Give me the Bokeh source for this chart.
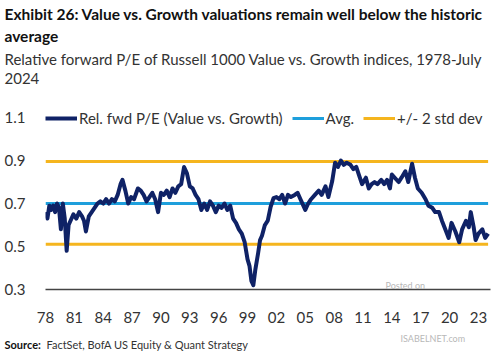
from bokeh.plotting import figure
from bokeh.models import Label, Legend, LegendItem, Range1d, FixedTicker
from bokeh.layouts import column
from bokeh.embed import file_html
from bokeh.resources import INLINE

years = [1978.0, 1978.2, 1978.4, 1978.6, 1978.8, 1979.0, 1979.2, 1979.4, 1979.6, 1979.8,
         1980.0, 1980.2, 1980.4, 1980.6, 1980.9, 1981.2, 1981.5, 1981.8, 1982.0, 1982.2,
         1982.5, 1982.8, 1983.1, 1983.4, 1983.7, 1984.0, 1984.3, 1984.6, 1984.9, 1985.2,
         1985.5, 1985.8, 1986.0, 1986.3, 1986.6, 1986.9, 1987.2, 1987.6, 1987.9, 1988.2,
         1988.5, 1988.8, 1989.1, 1989.4, 1989.7, 1990.0, 1990.3, 1990.6, 1990.9, 1991.2,
         1991.5, 1991.8, 1992.1, 1992.4, 1992.7, 1993.0, 1993.3, 1993.6, 1993.9, 1994.2,
         1994.5, 1994.8, 1995.1, 1995.4, 1995.7, 1996.0, 1996.3, 1996.6, 1996.9, 1997.2,
         1997.5, 1997.8, 1998.1, 1998.4, 1998.7, 1999.0, 1999.2, 1999.4, 1999.6, 1999.8,
         2000.1, 2000.3, 2000.5, 2000.8, 2001.1, 2001.4, 2001.7, 2002.0, 2002.3, 2002.6,
         2002.9, 2003.2, 2003.5, 2003.9, 2004.2, 2004.5, 2004.8, 2005.0, 2005.3, 2005.6,
         2006.0, 2006.4, 2006.7, 2007.1, 2007.4, 2007.8, 2008.1, 2008.4, 2008.7, 2009.0,
         2009.3, 2009.7, 2010.0, 2010.3, 2010.6, 2010.9, 2011.3, 2011.6, 2011.9, 2012.2,
         2012.5, 2012.9, 2013.2, 2013.5, 2013.8, 2014.0, 2014.3, 2014.7, 2015.0, 2015.4,
         2015.7, 2016.1, 2016.4, 2016.7, 2017.1, 2017.5, 2017.8, 2018.2, 2018.5, 2018.9,
         2019.2, 2019.6, 2019.9, 2020.2, 2020.6, 2021.0, 2021.3, 2021.7, 2022.0, 2022.2,
         2022.5, 2022.7, 2023.0, 2023.4, 2023.7, 2024.0]
rel_pe = [0.66, 0.63, 0.69, 0.67, 0.69, 0.66, 0.70, 0.68, 0.58, 0.70,
          0.63, 0.48, 0.60, 0.62, 0.65, 0.63, 0.66, 0.64, 0.62, 0.57,
          0.64, 0.66, 0.68, 0.70, 0.71, 0.70, 0.72, 0.70, 0.72, 0.71,
          0.74, 0.79, 0.81, 0.76, 0.70, 0.73, 0.72, 0.77, 0.76, 0.74,
          0.71, 0.73, 0.75, 0.72, 0.66, 0.75, 0.74, 0.76, 0.73, 0.77,
          0.75, 0.78, 0.79, 0.87, 0.84, 0.78, 0.77, 0.74, 0.72, 0.67,
          0.70, 0.67, 0.71, 0.69, 0.66, 0.69, 0.68, 0.70, 0.67, 0.69,
          0.63, 0.61, 0.58, 0.56, 0.52, 0.44, 0.41, 0.34, 0.32, 0.39,
          0.47, 0.53, 0.55, 0.60, 0.62, 0.685, 0.725, 0.73, 0.72, 0.74,
          0.70, 0.74, 0.73, 0.74, 0.75, 0.72, 0.69, 0.67, 0.70, 0.72,
          0.74, 0.76, 0.74, 0.78, 0.73, 0.805, 0.89, 0.87, 0.90, 0.88,
          0.89, 0.88, 0.86, 0.87, 0.83, 0.79, 0.82, 0.77, 0.79, 0.80,
          0.79, 0.81, 0.79, 0.81, 0.77, 0.835, 0.82, 0.80, 0.82, 0.85,
          0.80, 0.885, 0.82, 0.77, 0.75, 0.72, 0.69, 0.68, 0.66, 0.66,
          0.62, 0.575, 0.54, 0.61, 0.57, 0.52, 0.58, 0.62, 0.59, 0.66,
          0.59, 0.53, 0.56, 0.58, 0.54, 0.56]
avg_value = 0.70
upper_2sd = 0.895
lower_2sd = 0.51
tick_years = [1978, 1981, 1984, 1987, 1990, 1993, 1996, 1999, 2002, 2005, 2008, 2011, 2014, 2017, 2020, 2023]
tick_labels = ["78", "81", "84", "87", "90", "93", "96", "99", "02", "05", "08", "11", "14", "17", "20", "23"]
y_ticks = [0.3, 0.5, 0.7, 0.9, 1.1]

title_lines = ["Exhibit 26: Value vs. Growth valuations remain well below the historic", "average"]
subtitle_lines = ["Relative forward P/E of Russell 1000 Value vs. Growth indices, 1978-July", "2024"]
source_label = "Source:"
source_text = "FactSet, BofA US Equity & Quant Strategy"

FONT = "Lato"
NAVY = "#0f2266"
BLUE = "#1e9fdc"
ORANGE = "#f5b51e"
TXT = "#333333"


def blank_fig(h):
    f = figure(width=500, height=h, output_backend="svg", toolbar_location=None,
               x_range=Range1d(0, 500), y_range=Range1d(0, h),
               x_axis_location=None, y_axis_location=None,
               min_border=0, min_border_left=0, min_border_right=0,
               min_border_top=0, min_border_bottom=0)
    f.grid.visible = False
    f.outline_line_color = None
    f.border_fill_color = "white"
    return f


def lab(f, text, x, y, size, bold=False, color="#111111"):
    f.add_layout(Label(x=x, y=y, x_units="screen", y_units="screen", text=text,
                       text_font=FONT, text_font_size=size,
                       text_font_style="bold" if bold else "normal",
                       text_color=color, text_baseline="middle", text_align="left"))


# header (titles)
head = blank_fig(100)
lab(head, title_lines[0], 4, 100 - 13, "15.5px", True)
lab(head, title_lines[1], 4, 100 - 35, "15.5px", True)
lab(head, subtitle_lines[0], 4, 100 - 58, "15px", False, TXT)
lab(head, subtitle_lines[1], 4, 100 - 78, "15px", False, TXT)

# main chart
p = figure(width=500, height=230, output_backend="svg", toolbar_location=None,
           x_range=Range1d(1978, 2024.25), y_range=Range1d(0.3, 1.156),
           min_border_left=45, min_border_right=10, min_border_top=5, min_border_bottom=41)
p.outline_line_color = None
p.grid.visible = False
p.border_fill_color = "white"

span_x = [years[0], years[-1]]
r_up = p.line(span_x, [upper_2sd, upper_2sd], line_color=ORANGE, line_width=3)
p.line(span_x, [lower_2sd, lower_2sd], line_color=ORANGE, line_width=3)
r_avg = p.line(span_x, [avg_value, avg_value], line_color=BLUE, line_width=3)
r_main = p.line(years, rel_pe, line_color=NAVY, line_width=4, line_join="round")

xa = p.xaxis[0]
xa.ticker = FixedTicker(ticks=tick_years)
xa.major_label_overrides = {t: l for t, l in zip(tick_years, tick_labels)}
xa.axis_line_color = "#444444"
xa.axis_line_width = 1.5
xa.major_tick_line_color = None
xa.minor_tick_line_color = None
xa.major_label_text_font = FONT
xa.major_label_text_font_size = "15px"
xa.major_label_text_color = TXT
xa.major_label_standoff = 16

ya = p.yaxis[0]
ya.ticker = FixedTicker(ticks=y_ticks)
ya.axis_line_color = None
ya.major_tick_line_color = None
ya.minor_tick_line_color = None
ya.major_label_text_font = FONT
ya.major_label_text_font_size = "15px"
ya.major_label_text_color = TXT
ya.major_label_standoff = 14

legend = Legend(items=[LegendItem(label="Rel. fwd P/E (Value vs. Growth)", renderers=[r_main]),
                       LegendItem(label="Avg.", renderers=[r_avg]),
                       LegendItem(label="+/- 2 std dev", renderers=[r_up])],
                orientation="horizontal", location=(0, 162),
                glyph_width=32, glyph_height=18, label_standoff=2, spacing=9,
                padding=0, margin=0, border_line_alpha=0, background_fill_alpha=0,
                label_text_font=FONT, label_text_font_size="15px", label_text_color=TXT,
                label_height=18)
p.add_layout(legend, "center")

lab(p, "Posted on", 340, 4, "9px", False, "#b8b8b8")

# footer (source)
foot = blank_fig(24)
lab(foot, source_label, 4, 10, "11px", True)
lab(foot, source_text, 46, 10, "11px", False, TXT)
lab(foot, "ISABELNET.com", 400, 16, "9px", False, "#b8b8b8")

layout = column(column(head), p, column(foot), spacing=0)
open("out.html", "w").write(file_html(layout, INLINE))
